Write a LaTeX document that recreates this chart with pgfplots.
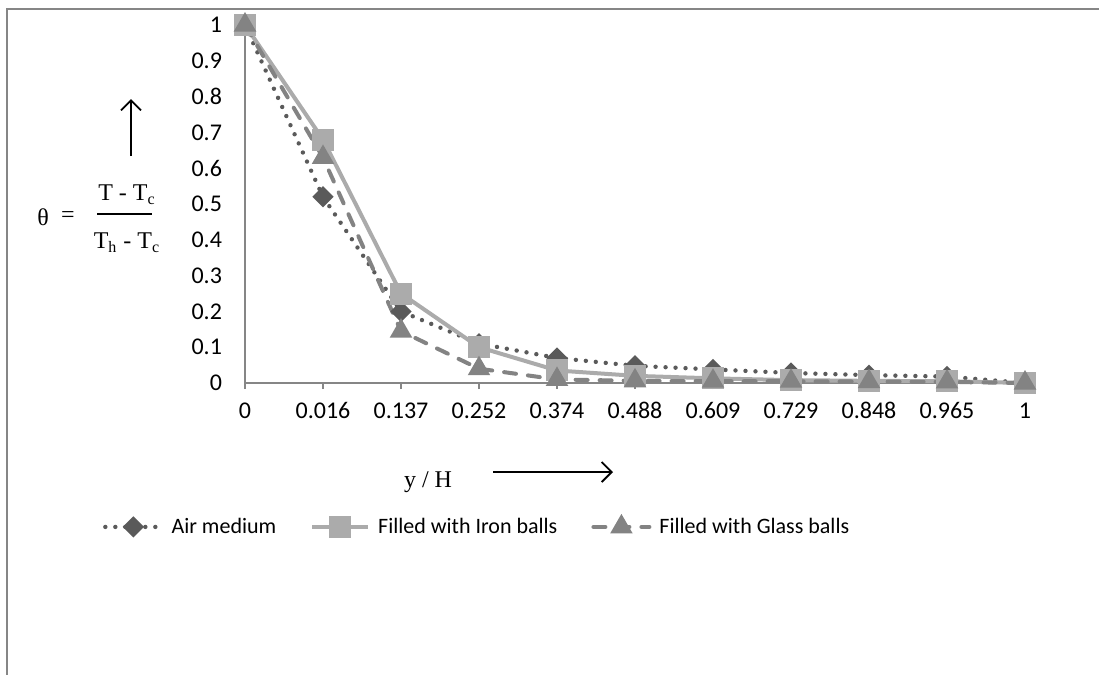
\documentclass[border=0pt]{standalone}
\usepackage{pgfplots}
\pgfplotsset{compat=1.18}
\usepackage{fontspec}
\setmainfont{Liberation Serif}
\newfontfamily\carlito{Carlito}
\usetikzlibrary{arrows.meta}
\definecolor{airc}{HTML}{5A5A5A}
\definecolor{ironc}{HTML}{ABABAB}
\definecolor{glassc}{HTML}{838383}
\definecolor{axc}{HTML}{868686}
\begin{document}
\begin{tikzpicture}
\useasboundingbox (0pt,0pt) rectangle (549.5pt,-337.5pt);
\draw[axc, line width=1.2pt] (549.5pt,-4.5pt) -- (3.5pt,-4.5pt) -- (3.5pt,-337.5pt);
\begin{axis}[
  at={(122.5pt,-191.5pt)}, anchor=south west,
  scale only axis, width=390pt, height=179pt,
  xmin=0, xmax=10, ymin=0, ymax=1,
  clip=false,
  axis x line*=bottom, axis y line*=left,
  axis line style={axc, line width=1pt, -},
  xtick={0,...,10},
  xticklabels={0,0.016,0.137,0.252,0.374,0.488,0.609,0.729,0.848,0.965,1},
  ytick={0,0.1,0.2,0.3,0.4,0.5,0.6,0.7,0.8,0.9,1},
  yticklabels={0,0.1,0.2,0.3,0.4,0.5,0.6,0.7,0.8,0.9,1},
  /pgf/number format/assume math mode=true,
  tick label style={font=\carlito\fontsize{12}{14}\selectfont, text=black},
  xticklabel style={anchor=base, yshift=-14.75pt},
  yticklabel style={xshift=-5pt},
  xtick style={axc, line width=1pt},
  ytick style={draw=none},
  tick align=outside, major tick length=3pt,
  legend columns=3,
  legend style={draw=none, fill=none, at={(0.299,-0.402)}, anchor=center,
    font=\carlito\fontsize{11}{13}\selectfont,
    /tikz/every even column/.append style={column sep=15pt},
    /tikz/every odd column/.append style={column sep=2pt}},
  legend cell align=left,
  legend image code/.code={\draw[mark repeat=2,mark phase=2] plot coordinates {(0pt,0pt)(14pt,0pt)(28pt,0pt)};},
]
\addplot[airc, line width=2.2pt, line cap=round, dash pattern=on 0pt off 5pt,
  mark=square*, mark size=2.65pt, mark options={solid, rotate=45, fill=airc, draw=airc}]
  coordinates {(0,1) (1,0.52) (2,0.20) (3,0.11) (4,0.07) (5,0.048) (6,0.038) (7,0.028) (8,0.022) (9,0.018) (10,0)};
\addlegendentry{Air medium}
\addplot[ironc, line width=2pt,
  mark=square*, mark size=4.5pt, mark options={solid, fill=ironc, draw=ironc}]
  coordinates {(0,1) (1,0.68) (2,0.25) (3,0.10) (4,0.035) (5,0.02) (6,0.013) (7,0.008) (8,0.006) (9,0.005) (10,0)};
\addlegendentry{Filled with Iron balls}
\addplot[glassc, line width=2pt, line cap=round, dash pattern=on 6pt off 6pt,
  mark=triangle*, mark size=4.5pt, mark options={solid, fill=glassc, draw=glassc}]
  coordinates {(0,1) (1,0.63) (2,0.145) (3,0.04) (4,0.01) (5,0.006) (6,0.005) (7,0.005) (8,0.004) (9,0.003) (10,0)};
\addlegendentry{Filled with Glass balls}
\end{axis}
% y-axis label
\node[font=\fontsize{12}{14}\selectfont] at (21.5pt,-108.5pt) {θ};
\node[font=\fontsize{12}{14}\selectfont] at (34pt,-108.5pt) {=};
\node[font=\fontsize{12}{14}\selectfont] at (63.5pt,-97.5pt) {T - T\textsubscript{c}};
\draw[black, line width=0.9pt] (48.5pt,-107pt) -- (76pt,-107pt);
\node[font=\fontsize{12}{14}\selectfont] at (63.5pt,-121.5pt) {T\textsubscript{h} - T\textsubscript{c}};
\draw[black, line width=0.9pt, -{Straight Barb[length=5pt,width=10pt]}] (65.5pt,-78pt) -- (65.5pt,-49.5pt);
% x-axis label
\node[font=\fontsize{12}{14}\selectfont] at (214pt,-241pt) {y / H};
\draw[black, line width=0.9pt, -{Straight Barb[length=5pt,width=10pt]}] (246.5pt,-236pt) -- (306.5pt,-236pt);
\end{tikzpicture}
\end{document}
